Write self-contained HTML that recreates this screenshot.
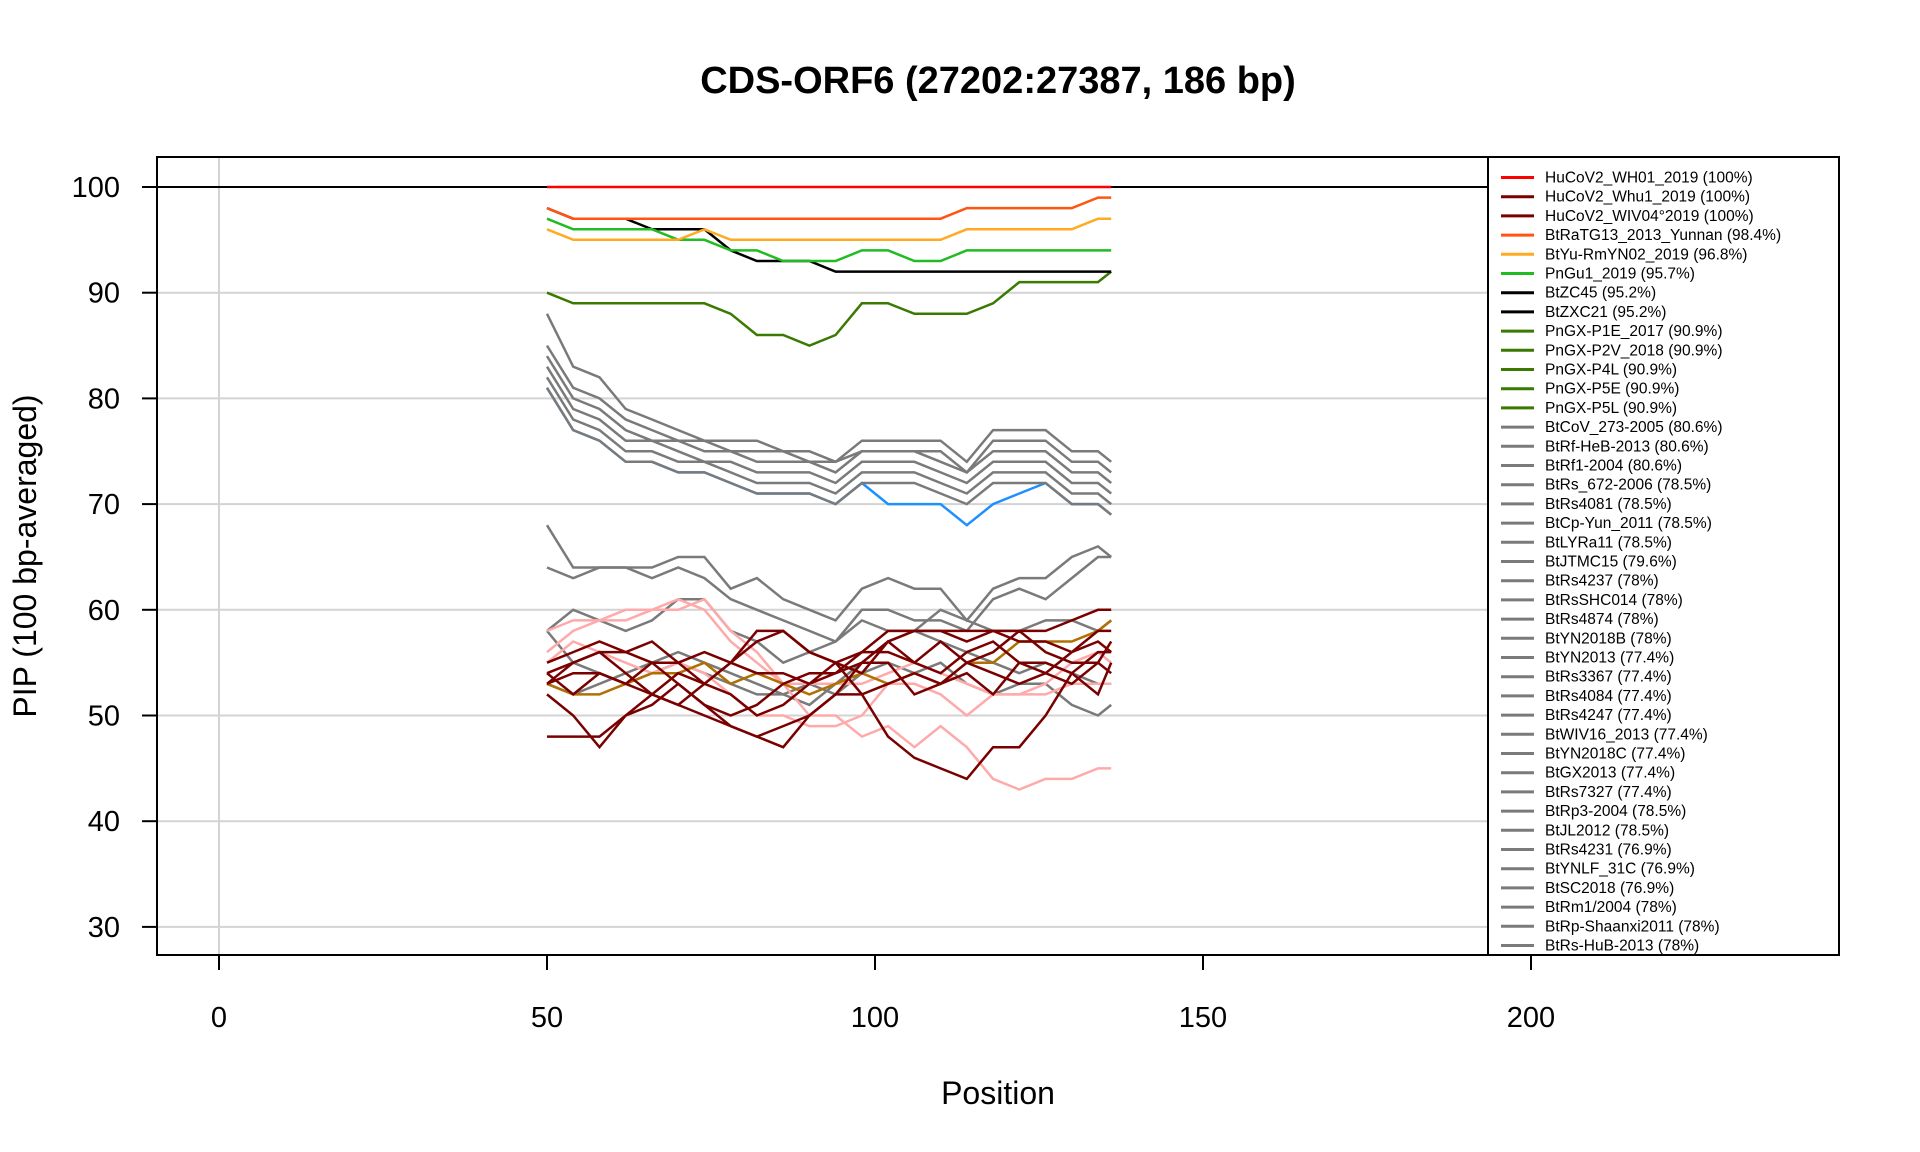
<!DOCTYPE html>
<html><head><meta charset="utf-8"><style>
html,body{margin:0;padding:0;background:#fff;}
svg{display:block;font-family:"Liberation Sans",Arial,sans-serif;}
</style></head><body>
<svg id="chart" width="1920" height="1152" viewBox="0 0 1920 1152">
<text x="998" y="93" text-anchor="middle" font-size="38" font-weight="bold">CDS-ORF6 (27202:27387, 186 bp)</text>
<text x="998" y="1104" text-anchor="middle" font-size="32">Position</text>
<text transform="translate(36,556) rotate(-90)" text-anchor="middle" font-size="32">PIP (100 bp-averaged)</text>
<g id="grid"></g>
<g id="series"></g>
<rect x="157" y="157" width="1682" height="798" fill="none" stroke="#000" stroke-width="2"/>
<g id="axes"></g>
<g id="legend"></g>
</svg>
<script>
const positions=[50,54,58,62,66,70,74,78,82,86,90,94,98,102,106,110,114,118,122,126,130,134,136];
const xTicks=[0,50,100,150,200];
const yTicks=[30,40,50,60,70,80,90,100];
const sRed=[100,100,100,100,100,100,100,100,100,100,100,100,100,100,100,100,100,100,100,100,100,100,100];
const sRaTG13=[98,97,97,97,97,97,97,97,97,97,97,97,97,97,97,97,98,98,98,98,98,99,99];
const sYu=[96,95,95,95,95,95,96,95,95,95,95,95,95,95,95,95,96,96,96,96,96,97,97];
const sGu1=[97,96,96,96,96,95,95,94,94,93,93,93,94,94,93,93,94,94,94,94,94,94,94];
const sZC45=[98,97,97,97,96,96,96,94,93,93,93,92,92,92,92,92,92,92,92,92,92,92,92];
const sPnGX=[90,89,89,89,89,89,89,88,86,86,85,86,89,89,88,88,88,89,91,91,91,91,92];
const sG1=[88,83,82,79,78,77,76,76,76,75,75,74,76,76,76,76,74,77,77,77,75,75,74];
const sG2=[85,81,80,78,77,76,76,75,75,75,74,74,75,75,75,75,73,76,76,76,74,74,73];
const sG3=[84,80,79,77,76,76,75,75,74,74,74,73,75,75,75,74,73,75,75,75,73,73,72];
const sG4=[83,79,78,76,76,75,74,74,73,73,73,72,74,74,74,73,72,74,74,74,72,72,71];
const sG5=[82,78,77,75,75,74,74,73,72,72,72,71,73,73,73,72,71,73,73,73,71,71,70];
const sBlue=[81,77,76,74,74,73,73,72,71,71,71,70,72,70,70,70,68,70,71,72,70,70,69];
const sG6=[81,77,76,74,74,73,73,72,71,71,71,70,72,72,72,71,70,72,72,72,70,70,69];
const sH1=[68,64,64,64,64,65,65,62,63,61,60,59,62,63,62,62,59,62,63,63,65,66,65];
const sH2=[64,63,64,64,63,64,63,61,60,59,58,57,60,60,59,59,58,61,62,61,63,65,65];
const sH3=[58,60,59,58,59,61,61,58,57,55,56,57,59,58,58,60,59,58,58,59,59,58,59];
const sH4=[58,55,54,53,54,55,54,53,52,52,53,52,54,55,54,55,53,52,53,53,51,50,51];
const sH5=[53,52,53,54,55,56,55,54,53,52,51,53,55,57,58,57,56,55,54,55,54,53,53];
const sP1=[58,59,59,60,60,61,60,57,55,53,53,53,53,54,55,54,53,52,52,52,53,53,53];
const sP2=[56,58,59,59,60,60,61,58,56,53,50,50,48,49,47,49,47,44,43,44,44,45,45];
const sP3=[55,57,56,55,54,55,54,52,50,50,49,49,50,53,53,52,50,52,52,53,55,56,55];
const sGold=[53,52,52,53,54,54,55,53,54,53,52,53,54,53,54,53,55,55,57,57,57,58,59];
const sR1=[48,48,48,50,52,54,53,55,57,58,56,55,52,48,46,45,44,47,47,50,54,56,56];
const sR2=[52,50,47,50,51,53,51,49,48,47,50,52,55,57,58,58,57,58,58,58,59,60,60];
const sR3=[54,55,56,56,55,55,56,55,54,54,53,54,56,58,58,58,58,58,57,57,56,58,58];
const sR4=[55,56,57,56,57,55,53,52,50,51,53,55,56,56,55,57,55,56,58,56,55,55,57];
const sR5=[54,52,54,53,52,51,50,49,48,49,50,52,52,53,54,53,55,54,53,54,53,55,54];
const sR6=[53,54,54,53,55,53,51,50,51,53,54,54,55,55,52,53,54,52,55,55,54,52,55];
const sR7=[53,55,56,54,52,51,53,55,58,58,56,55,54,57,55,54,56,57,55,54,56,57,56];
const legendLabels=["HuCoV2_WH01_2019 (100%)","HuCoV2_Whu1_2019 (100%)","HuCoV2_WIV04°2019 (100%)","BtRaTG13_2013_Yunnan (98.4%)","BtYu-RmYN02_2019 (96.8%)","PnGu1_2019 (95.7%)","BtZC45 (95.2%)","BtZXC21 (95.2%)","PnGX-P1E_2017 (90.9%)","PnGX-P2V_2018 (90.9%)","PnGX-P4L (90.9%)","PnGX-P5E (90.9%)","PnGX-P5L (90.9%)","BtCoV_273-2005 (80.6%)","BtRf-HeB-2013 (80.6%)","BtRf1-2004 (80.6%)","BtRs_672-2006 (78.5%)","BtRs4081 (78.5%)","BtCp-Yun_2011 (78.5%)","BtLYRa11 (78.5%)","BtJTMC15 (79.6%)","BtRs4237 (78%)","BtRsSHC014 (78%)","BtRs4874 (78%)","BtYN2018B (78%)","BtYN2013 (77.4%)","BtRs3367 (77.4%)","BtRs4084 (77.4%)","BtRs4247 (77.4%)","BtWIV16_2013 (77.4%)","BtYN2018C (77.4%)","BtGX2013 (77.4%)","BtRs7327 (77.4%)","BtRp3-2004 (78.5%)","BtJL2012 (78.5%)","BtRs4231 (76.9%)","BtYNLF_31C (76.9%)","BtSC2018 (76.9%)","BtRm1/2004 (78%)","BtRp-Shaanxi2011 (78%)","BtRs-HuB-2013 (78%)"];
const NS="http://www.w3.org/2000/svg";
function X(v){return 219+6.56*v;}
function Y(v){return 187+(100-v)*10.57;}
function mk(tag,attrs,parent){const e=document.createElementNS(NS,tag);for(const k in attrs)e.setAttribute(k,attrs[k]);parent.appendChild(e);return e;}
const grid=document.getElementById('grid'),ser=document.getElementById('series'),axes=document.getElementById('axes'),leg=document.getElementById('legend');
yTicks.forEach(v=>{if(v===100)return;const l=mk('line',{x1:157,x2:1488,y1:Y(v),y2:Y(v),stroke:'#d3d3d3','stroke-width':2},grid);

});
const vg=mk('line',{x1:X(0),x2:X(0),y1:157,y2:955,stroke:'#d3d3d3','stroke-width':2},grid);


const hl=mk('line',{x1:157,x2:1488,y1:Y(100),y2:Y(100),stroke:'#000','stroke-width':2},grid);


const series=[
[sH1,'#7a7a7a'],[sH2,'#7a7a7a'],[sH3,'#7a7a7a'],[sH4,'#7a7a7a'],[sH5,'#7a7a7a'],
[sP1,'#ffaaaa'],[sP2,'#ffaaaa'],[sP3,'#ffaaaa'],[sGold,'#b07000'],
[sR1,'#7a0000'],[sR2,'#7a0000'],[sR3,'#7a0000'],[sR4,'#7a0000'],[sR5,'#7a0000'],[sR6,'#7a0000'],[sR7,'#7a0000'],
[sBlue,'#1e90ff'],[sG6,'#7a7a7a'],[sG5,'#7a7a7a'],[sG4,'#7a7a7a'],[sG3,'#7a7a7a'],[sG2,'#7a7a7a'],[sG1,'#7a7a7a'],
[sPnGX,'#3a7a00'],[sZC45,'#000000'],[sGu1,'#22bb22'],[sYu,'#ffaa22'],[sRaTG13,'#ff5511'],[sRed,'#ff0000']];
series.forEach((s,i)=>{const d=s[0].map((v,j)=>(j?'L':'M')+X(positions[j]).toFixed(1)+','+Y(v).toFixed(1)).join(' ');
const p=mk('path',{d:d,fill:'none',stroke:s[1],'stroke-width':2.5},ser);

});
xTicks.forEach(v=>{const t=mk('line',{x1:X(v),x2:X(v),y1:955,y2:970,stroke:'#000','stroke-width':2},axes);


const tx=mk('text',{x:X(v),y:1027,'text-anchor':'middle','font-size':29},axes);tx.textContent=v;

});
yTicks.forEach(v=>{const t=mk('line',{x1:142,x2:157,y1:Y(v),y2:Y(v),stroke:'#000','stroke-width':2},axes);


const tx=mk('text',{x:120,y:Y(v)+10,'text-anchor':'end','font-size':29},axes);tx.textContent=v;

});
const lb=mk('rect',{x:1488,y:157,width:351,height:798,fill:'#fff',stroke:'#000','stroke-width':2},leg);


const legColors=['#ff0000','#7a0000','#7a0000','#ff5511','#ffaa22','#22bb22','#000000','#000000','#3a7a00','#3a7a00','#3a7a00','#3a7a00','#3a7a00'];
legendLabels.forEach((lab,i)=>{const y=177.5+i*19.2;const c=legColors[i]||'#7a7a7a';
const g=mk('g',{},leg);


mk('line',{x1:1501,x2:1534,y1:y,y2:y,stroke:c,'stroke-width':3},g);
const t=mk('text',{x:1545,y:y+5,'font-size':15.5},g);t.textContent=lab;});
</script>
</body></html>
